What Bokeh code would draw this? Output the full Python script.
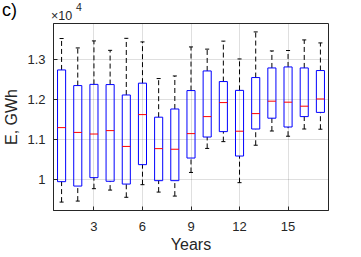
from bokeh.plotting import figure
from bokeh.layouts import column
from bokeh.models import Range1d, FixedTicker, Div
from bokeh.embed import file_html
from bokeh.resources import INLINE

years = list(range(1, 18))
lower = [9440, 9465, 9775, 9740, 9560, 9875, 9690, 9590, 10180, 10780, 10950, 9925, 10860, 11215, 11085, 11265, 11260]
q1 = [9950, 9840, 10050, 9960, 9890, 10375, 9975, 9975, 10540, 11065, 11200, 10590, 11265, 11535, 11315, 11575, 11680]
median = [11300, 11180, 11140, 11225, 10830, 11625, 10775, 10760, 11150, 11575, 11925, 11210, 11650, 11960, 11935, 11835, 12015]
q3 = [12740, 12350, 12380, 12375, 12115, 12410, 11560, 11765, 12225, 12715, 12450, 12230, 12550, 12790, 12815, 12790, 12725]
upper = [13525, 13290, 13465, 13230, 13530, 13440, 12525, 12590, 13315, 13260, 13460, 13015, 13690, 13215, 13225, 13490, 13415]

x_ticks = [3, 6, 9, 12, 15]
y_ticks = [10000, 11000, 12000, 13000]
y_tick_labels = ["1", "1.1", "1.2", "1.3"]

FONT = "Liberation Sans"
AX = "#262626"
BW = 0.25  # half box width
CW = 0.125  # half cap width

# --- header: panel letter and exponent ---
header_html = (
    '<div style="position:relative;width:361px;height:22px;margin:0;padding:0;'
    'font-family:\'Liberation Sans\',sans-serif;">'
    '<span style="position:absolute;left:2px;top:1.3px;font-size:18px;line-height:18px;'
    'color:#000;white-space:nowrap;">c)</span>'
    '<span style="position:absolute;left:51px;top:9.5px;font-size:12.5px;line-height:12.5px;'
    'color:#262626;white-space:nowrap;">\u00d710</span>'
    '<span style="position:absolute;left:76px;top:1.5px;font-size:10.5px;line-height:10.5px;'
    'color:#262626;white-space:nowrap;">4</span>'
    '</div>'
)
header = Div(text=header_html, width=361, height=22, margin=0)

# --- main box plot ---
p = figure(width=361, height=235, x_range=Range1d(0.5, 17.5), y_range=Range1d(9230, 13900),
           output_backend="svg", toolbar_location=None,
           min_border_left=50, min_border_right=33, min_border_top=1, min_border_bottom=47)
p.title.visible = False

left = [x - BW for x in years]
right = [x + BW for x in years]
cl = [x - CW for x in years]
cr = [x + CW for x in years]

p.segment(x0=years, y0=q3, x1=years, y1=upper, line_color="black", line_width=1, line_dash="5 3")
p.segment(x0=years, y0=lower, x1=years, y1=q1, line_color="black", line_width=1, line_dash="5 3")
p.segment(x0=cl, y0=upper, x1=cr, y1=upper, line_color="black", line_width=1)
p.segment(x0=cl, y0=lower, x1=cr, y1=lower, line_color="black", line_width=1)
p.quad(left=left, right=right, bottom=q1, top=q3, fill_color=None, line_color="#0000ff", line_width=1)
p.segment(x0=left, y0=median, x1=right, y1=median, line_color="#ff0000", line_width=1)

p.xaxis.ticker = FixedTicker(ticks=x_ticks)
p.yaxis.ticker = FixedTicker(ticks=y_ticks)
p.yaxis.major_label_overrides = {t: s for t, s in zip(y_ticks, y_tick_labels)}
for ax in (p.xaxis, p.yaxis):
    ax.major_tick_in = 4
    ax.major_tick_out = 0
    ax.minor_tick_line_color = None
    ax.axis_line_color = AX
    ax.major_tick_line_color = AX
    ax.major_label_text_font = FONT
    ax.major_label_text_font_size = "13px"
    ax.major_label_text_color = AX
    ax.axis_label_text_font = FONT
    ax.axis_label_text_font_size = "16px"
    ax.axis_label_text_font_style = "normal"
    ax.axis_label_text_color = AX
p.yaxis.major_label_standoff = 8
p.xaxis.major_label_standoff = 11
p.xaxis.axis_label = "Years"
p.yaxis.axis_label = "E, GWh"
p.xaxis.axis_label_standoff = 2
p.yaxis.axis_label_standoff = 4

p.grid.grid_line_color = AX
p.grid.grid_line_alpha = 0.15
p.outline_line_color = AX
p.outline_line_alpha = 1
p.outline_line_width = 1

layout = column(header, p, spacing=0)
open("out.html", "w").write(file_html(layout, INLINE))
